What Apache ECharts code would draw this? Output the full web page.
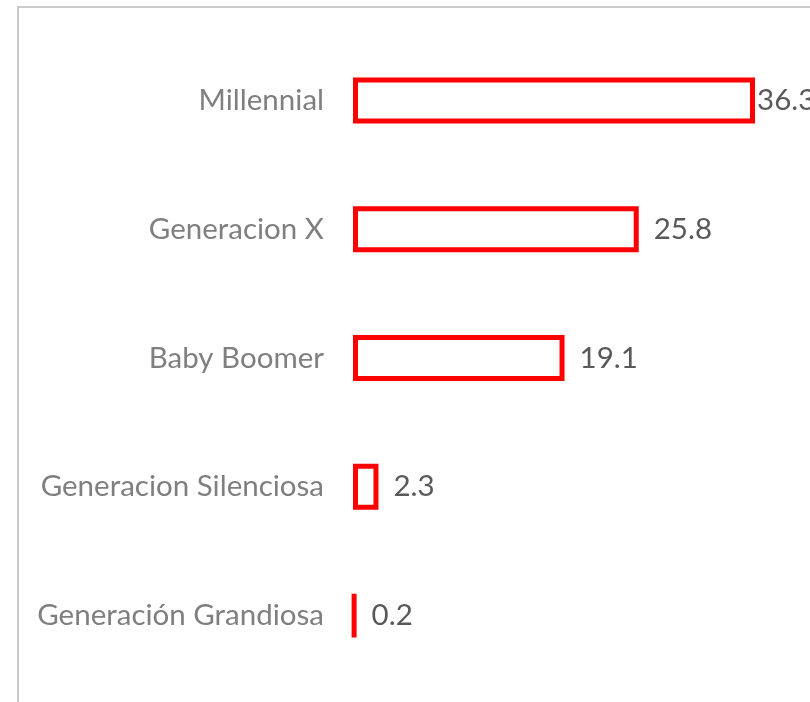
<!DOCTYPE html>
<html>
<head>
<meta charset="utf-8">
<title>Generaciones</title>
<script src="https://cdn.jsdelivr.net/npm/echarts@6/dist/echarts.min.js"></script>
<style>
	html, body {
		margin: 0;
		padding: 0;
		background: #fff;
		overflow: hidden;
	}
	#chart {
		width: 810px;
		height: 702px;
	}
	.frame {
		position: absolute;
		left: 17px;
		top: 6px;
		width: 900px;
		height: 800px;
		border-left: 2px solid #cacaca;
		border-top: 2px solid #cacaca;
		pointer-events: none;
	}
</style>
</head>
<body>
<div id="chart"></div>
<div class="frame"></div>
<script>
	// generaciones y porcentajes
	var categories = ['Millennial', 'Generacion X', 'Baby Boomer', 'Generacion Silenciosa', 'Generación Grandiosa'];
	var values = [36.3, 25.8, 19.1, 2.3, 0.2];

	var chart = echarts.init(document.getElementById('chart'));
	chart.setOption({
		animation: false,
		grid: {
			left: 353,
			top: 36,
			width: 443,
			height: 644,
			containLabel: false
		},
		xAxis: {
			type: 'value',
			min: 0,
			max: 40,
			show: false
		},
		yAxis: {
			type: 'category',
			inverse: true,
			data: categories,
			axisLine: { show: false },
			axisTick: { show: false },
			axisLabel: {
				margin: 29,
				fontSize: 29.5,
				fontFamily: 'Lato',
				color: '#7f7f7f'
			}
		},
		series: [{
			type: 'bar',
			// el primer valor queda pegado a la barra, como en el original
			data: values.map(function(v, i) {
				return i === 0 ? { value: v, label: { distance: 2 } } : v;
			}),
			barWidth: 46,
			itemStyle: {
				color: '#ffffff',
				borderColor: '#ff0000',
				borderWidth: 5
			},
			label: {
				show: true,
				position: 'right',
				distance: 15,
				fontSize: 29.5,
				fontFamily: 'Lato',
				color: '#595959'
			}
		}]
	});
</script>
</body>
</html>
